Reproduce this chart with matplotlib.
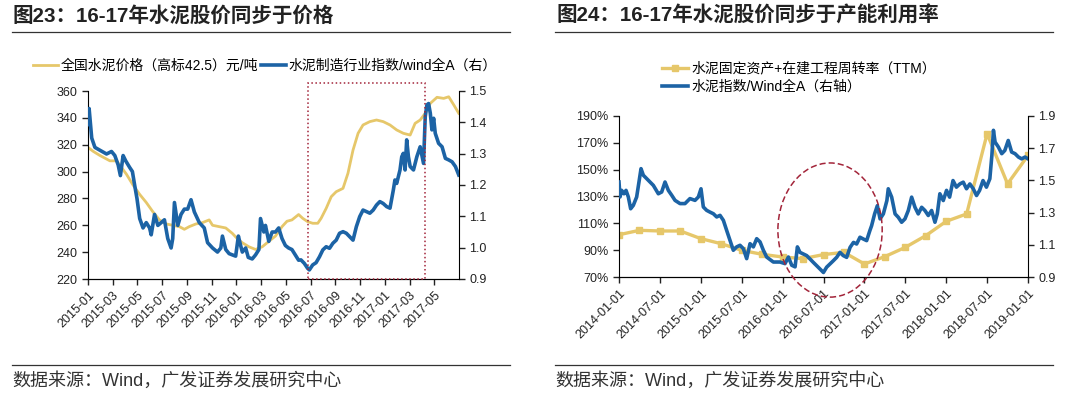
import numpy as np
import matplotlib
matplotlib.use('Agg')
import matplotlib.pyplot as plt
from matplotlib.lines import Line2D
from matplotlib.patches import Rectangle, Ellipse
from matplotlib.ticker import FuncFormatter

plt.rcParams['font.family'] = ['Liberation Sans', 'Noto Sans CJK SC']

# ---------------------------------------------------------------------------
# panel 1 data (x = months since 2015-01)
p1_xlabels = ['2015-01', '2015-03', '2015-05', '2015-07', '2015-09', '2015-11',
              '2016-01', '2016-03', '2016-05', '2016-07', '2016-09', '2016-11',
              '2017-01', '2017-03', '2017-05']

# cement price, yuan/ton (left axis)
price_m = [0, 0.43, 0.96, 1.77, 2.3, 2.71, 3.11, 3.64, 4.18, 4.71, 5.25, 5.78,
           6.32, 6.85, 7.39, 7.79, 8.19, 8.73, 9.26, 9.8, 10.07, 10.6, 11.14,
           11.67, 12.08, 12.48, 13.01, 13.55, 14.09, 14.62, 15.16, 15.69, 16.09,
           16.49, 17.03, 17.36, 17.76, 18.17, 18.58, 18.85, 19.26, 19.67, 20.07,
           20.62, 21.02, 21.43, 21.84, 22.24, 22.79, 23.33, 23.87, 24.42, 24.96,
           25.5, 26.05, 26.45, 26.86, 27.27, 27.68, 28.22, 28.76, 29.17, 29.58,
           29.98]
price_v = [318, 315, 312, 308, 308, 303, 298, 290, 283, 277, 270, 264,
           261, 260, 259, 257, 259, 261, 262, 264, 260, 259, 258,
           254, 250, 247, 244, 242, 244, 248, 252, 259, 263,
           264, 268, 265.2, 262.7, 261.5, 261.5, 265.2, 272.6, 281.3, 285,
           287.5, 298.7, 316, 328.5, 334.7, 337.2, 338.4, 337.2, 334.7, 331,
           328.5, 327.2, 335.9, 338.4, 343.4, 350.8, 355.3, 354.5, 355.7, 349.6,
           343.4]

# cement index / wind A (right axis)
idx1_m = [0.0, 0.09, 0.3, 0.56, 0.96, 1.5, 1.9, 2.17, 2.44, 2.62, 2.84, 3.05,
          3.37, 3.59, 3.77, 3.96, 4.18, 4.45, 4.71, 4.98, 5.11, 5.38, 5.65, 5.92,
          6.18, 6.45, 6.72, 6.85, 6.99, 7.26, 7.52, 7.79, 8.06, 8.33, 8.6, 9.0,
          9.4, 9.67, 10.07, 10.47, 10.74, 10.87, 11.14, 11.41, 11.67, 11.94,
          12.16, 12.34, 12.48, 12.75, 12.96, 13.28, 13.55, 13.82, 13.95, 14.22,
          14.35, 14.62, 14.89, 15.16, 15.42, 15.69, 15.96, 16.22, 16.49, 16.76,
          17.03, 17.22, 17.49, 17.76, 17.9, 18.17, 18.44, 18.72, 18.99, 19.26,
          19.53, 19.8, 20.07, 20.34, 20.62, 20.89, 21.16, 21.43, 21.7, 21.97,
          22.24, 22.52, 22.79, 23.06, 23.33, 23.6, 23.87, 24.15, 24.42, 24.69,
          24.82, 24.96, 25.23, 25.37, 25.5, 25.64, 25.77, 25.91, 26.05, 26.32,
          26.59, 26.86, 27.13, 27.27, 27.4, 27.54, 27.68, 27.81, 27.95, 28.08,
          28.35, 28.63, 28.9, 29.17, 29.44, 29.71, 29.98]
idx1_v = [1.393, 1.444, 1.35, 1.32, 1.311, 1.299, 1.307, 1.294, 1.264, 1.23, 1.294, 1.277,
          1.256, 1.243, 1.2, 1.157, 1.093, 1.063, 1.08, 1.063, 1.041, 1.106, 1.071, 1.08,
          1.089, 1.029, 0.999, 1.029, 1.144, 1.071, 1.106, 1.123, 1.123, 1.153, 1.114, 1.08,
          1.063, 1.016, 0.999, 0.986, 0.999, 1.037, 0.994, 0.981, 0.977, 0.973,
          1.037, 1.007, 0.986, 0.999, 0.969, 0.964, 0.977, 0.994, 1.093, 1.05,
          1.071, 1.02, 1.05, 1.05, 1.063, 1.029, 1.007, 0.999, 0.994, 0.977,
          0.96, 0.961, 0.95, 0.934, 0.929, 0.945, 0.952, 0.971, 0.993, 1.003,
          0.998, 1.014, 1.024, 1.046, 1.051, 1.046, 1.035, 1.024, 1.067, 1.099,
          1.12, 1.115, 1.11, 1.12, 1.136, 1.147, 1.141, 1.131, 1.126, 1.184,
          1.216, 1.205, 1.248, 1.29, 1.301, 1.248, 1.344, 1.29, 1.259, 1.248,
          1.29, 1.322, 1.269, 1.418, 1.455, 1.46, 1.429, 1.376, 1.413, 1.365,
          1.333, 1.322, 1.285, 1.28, 1.274, 1.259, 1.232]

# ---------------------------------------------------------------------------
# panel 2 data (x = months since 2014-01)
p2_xlabels = ['2014-01-01', '2014-07-01', '2015-01-01', '2015-07-01', '2016-01-01',
              '2016-07-01', '2017-01-01', '2017-07-01', '2018-01-01', '2018-07-01',
              '2019-01-01']

# fixed asset turnover, quarterly (left axis, %)
turn_m = [0, 3, 6, 9, 12, 15, 18, 21, 24, 27, 30, 33, 36, 39, 42, 45, 48, 51, 54, 57, 60]
turn_v = [101.5, 104.8, 104.3, 104.3, 98.6, 94.8, 89.9, 86.9, 84.9, 83.7, 86.7,
          88.4, 79.7, 85.2, 92.1, 100.8, 111.5, 117.0, 176.8, 139.4, 160.6]

# cement index / Wind A (right axis)
idx2_m = [0.0, 0.15, 0.39, 0.73, 1.03, 1.37, 1.71, 2.1, 2.59, 2.93, 3.23, 3.57,
          4.06, 4.55, 5.04, 5.77, 6.26, 6.75, 7.24, 7.73, 8.22, 8.95, 9.68, 10.41,
          11.15, 11.64, 12.03, 12.37, 12.86, 13.35, 13.84, 14.33, 14.82, 15.31,
          15.79, 16.28, 16.77, 17.26, 17.75, 18.24, 18.73, 19.22, 19.71, 20.2,
          20.69, 21.18, 21.66, 22.64, 23.62, 24.36, 24.85, 25.34, 25.83, 26.17,
          26.55, 27.04, 27.53, 28.02, 28.5, 29.0, 29.5, 29.99, 30.46, 30.95,
          31.44, 31.93, 32.42, 32.9, 33.4, 33.9, 34.4, 34.86, 35.35, 35.84,
          36.33, 36.8, 37.06, 37.5, 37.9, 38.3, 38.78, 39.3, 39.5, 40.0, 40.5,
          40.97, 41.46, 41.95, 42.44, 42.93, 43.42, 43.9, 44.4, 44.88, 45.37,
          45.86, 46.35, 46.69, 47.07, 47.57, 48.05, 48.5, 49.0, 49.5, 50.0,
          50.5, 50.98, 51.47, 51.97, 52.45, 52.9, 53.4, 53.9, 54.4, 54.7,
          54.93, 55.17, 55.66, 56.15, 56.6, 57.1, 57.6, 58.1, 58.6, 59.07,
          59.56, 60.0]
idx2_v = [1.49, 1.397, 1.438, 1.417, 1.438, 1.397, 1.324, 1.345, 1.397, 1.49, 1.573, 1.532,
          1.511, 1.49, 1.469, 1.417, 1.428, 1.49, 1.438, 1.408, 1.376, 1.356, 1.356, 1.387,
          1.376, 1.397, 1.448, 1.335, 1.314, 1.303, 1.293, 1.273, 1.283, 1.252,
          1.19, 1.128, 1.066, 1.087, 1.097, 1.076, 1.014, 1.107, 1.087, 1.138,
          1.118, 1.066, 1.024, 0.993, 0.993, 0.983, 1.024, 0.973, 0.963, 1.087,
          1.053, 1.043, 1.033, 1.012, 0.991, 0.97, 0.949, 0.928, 0.961, 0.981,
          1.001, 1.022, 1.053, 1.033, 1.022, 1.084, 1.115, 1.105, 1.147, 1.136,
          1.126, 1.188, 1.219, 1.292, 1.343, 1.261, 1.292, 1.375, 1.448, 1.396, 1.292,
          1.271, 1.24, 1.261, 1.313, 1.396, 1.333, 1.292, 1.333, 1.313, 1.282,
          1.313, 1.24, 1.292, 1.417, 1.375, 1.438, 1.396, 1.499, 1.458, 1.478,
          1.489, 1.448, 1.478, 1.448, 1.406, 1.438, 1.499, 1.458, 1.51, 1.655,
          1.811, 1.738, 1.707, 1.666, 1.686, 1.748, 1.676, 1.666, 1.645, 1.634,
          1.645, 1.634]

GOLD = '#E6C76A'
BLUE = '#1C63A5'
RED = '#A3253A'

fig = plt.figure(figsize=(10.8, 3.98), dpi=100)
W, H = 1080.0, 398.0


def style(ax, axr):
    for a in (ax, axr):
        a.spines['top'].set_visible(False)
        a.tick_params(direction='out', length=4, width=1, labelsize=9, colors='#222222')
    axr.spines['left'].set_visible(False)
    ax.spines['right'].set_visible(False)


# ---------------------------- panel 1 ----------------------------------------
ax1 = fig.add_axes([88 / W, 1 - 279 / H, 371 / W, 188 / H])
l_price, = ax1.plot(price_m, price_v, color=GOLD, lw=2.0, label='全国水泥价格（高标42.5）元/吨')
ax1.set_ylim(220, 360)
ax1.set_yticks(np.arange(220, 361, 20))
ax1.set_xlim(0, 30)
ax1.set_xticks(np.arange(0, 29, 2))
ax1.set_xticklabels(p1_xlabels, rotation=45, ha='right', rotation_mode='anchor', fontsize=8.5)

ax1r = ax1.twinx()
l_idx1, = ax1r.plot(idx1_m, idx1_v, color=BLUE, lw=2.6, label='水泥制造行业指数/wind全A（右）')
ax1r.set_ylim(0.9, 1.5)
ax1r.set_yticks(np.arange(0.9, 1.51, 0.1))
ax1r.yaxis.set_major_formatter(FuncFormatter(lambda v, p: '%.1f' % v))
style(ax1, ax1r)

ax1r.add_patch(Rectangle((17.82, 220), 27.27 - 17.82, 146.2, transform=ax1.transData,
                         fill=False, ec=RED, ls=':', lw=1.1, clip_on=False, zorder=5))

fig.legend(handles=[l_price, l_idx1], loc='center left', bbox_to_anchor=(33 / W, 1 - 66 / H),
           ncol=2, frameon=False, fontsize=10, handlelength=1.8, handletextpad=0.2,
           columnspacing=0.2, borderpad=0, borderaxespad=0)

# ---------------------------- panel 2 ----------------------------------------
ax2 = fig.add_axes([619 / W, 1 - 277 / H, 409 / W, 161 / H])
l_turn, = ax2.plot(turn_m, turn_v, color=GOLD, lw=2.4, marker='s', ms=4.5, mec=GOLD,
                   label='水泥固定资产+在建工程周转率（TTM）')
ax2.set_ylim(70, 190)
ax2.set_yticks(np.arange(70, 191, 20))
ax2.yaxis.set_major_formatter(FuncFormatter(lambda v, p: '%d%%' % v))
ax2.set_xlim(0, 60)
ax2.set_xticks(np.arange(0, 61, 6))
ax2.set_xticklabels(p2_xlabels, rotation=45, ha='right', rotation_mode='anchor', fontsize=9)

ax2r = ax2.twinx()
l_idx2, = ax2r.plot(idx2_m, idx2_v, color=BLUE, lw=2.6, label='水泥指数/Wind全A（右轴）')
ax2r.set_ylim(0.9, 1.9)
ax2r.set_yticks(np.arange(0.9, 1.91, 0.2))
ax2r.yaxis.set_major_formatter(FuncFormatter(lambda v, p: '%.1f' % v))
style(ax2, ax2r)

ax2r.add_patch(Ellipse((30.96, 105), 15.3, 100, transform=ax2.transData, fill=False,
                       ec=RED, ls=(0, (4, 2)), lw=1.1, clip_on=False, zorder=5))

fig.legend(handles=[l_turn, l_idx2], loc='center left', bbox_to_anchor=(662 / W, 1 - 77.5 / H),
           ncol=1, frameon=False, fontsize=10, handlelength=1.9, handletextpad=0.2,
           labelspacing=0.3, numpoints=1, borderpad=0, borderaxespad=0)

# ---------------------------- titles and sources -----------------------------
fig.text(12 / W, 1 - 16 / H, '图23：16-17年水泥股价同步于价格', fontsize=14.8,
         fontweight='bold', ha='left', va='center', color='#222222')
fig.text(557 / W, 1 - 16 / H, '图24：16-17年水泥股价同步于产能利用率', fontsize=14.8,
         fontweight='bold', ha='left', va='center', color='#222222')
for x0, x1 in [(12, 510), (555, 1053)]:
    fig.add_artist(Line2D([x0 / W, x1 / W], [1 - 31.5 / H] * 2, color='#333333', lw=0.9))
    fig.add_artist(Line2D([x0 / W, x1 / W], [1 - 365 / H] * 2, color='#333333', lw=0.9))
fig.text(12 / W, 1 - 381 / H, '数据来源：Wind，广发证券发展研究中心', fontsize=13,
         ha='left', va='center', color='#333333')
fig.text(555 / W, 1 - 381 / H, '数据来源：Wind，广发证券发展研究中心', fontsize=13,
         ha='left', va='center', color='#333333')

fig.savefig('out.png', dpi=100)
